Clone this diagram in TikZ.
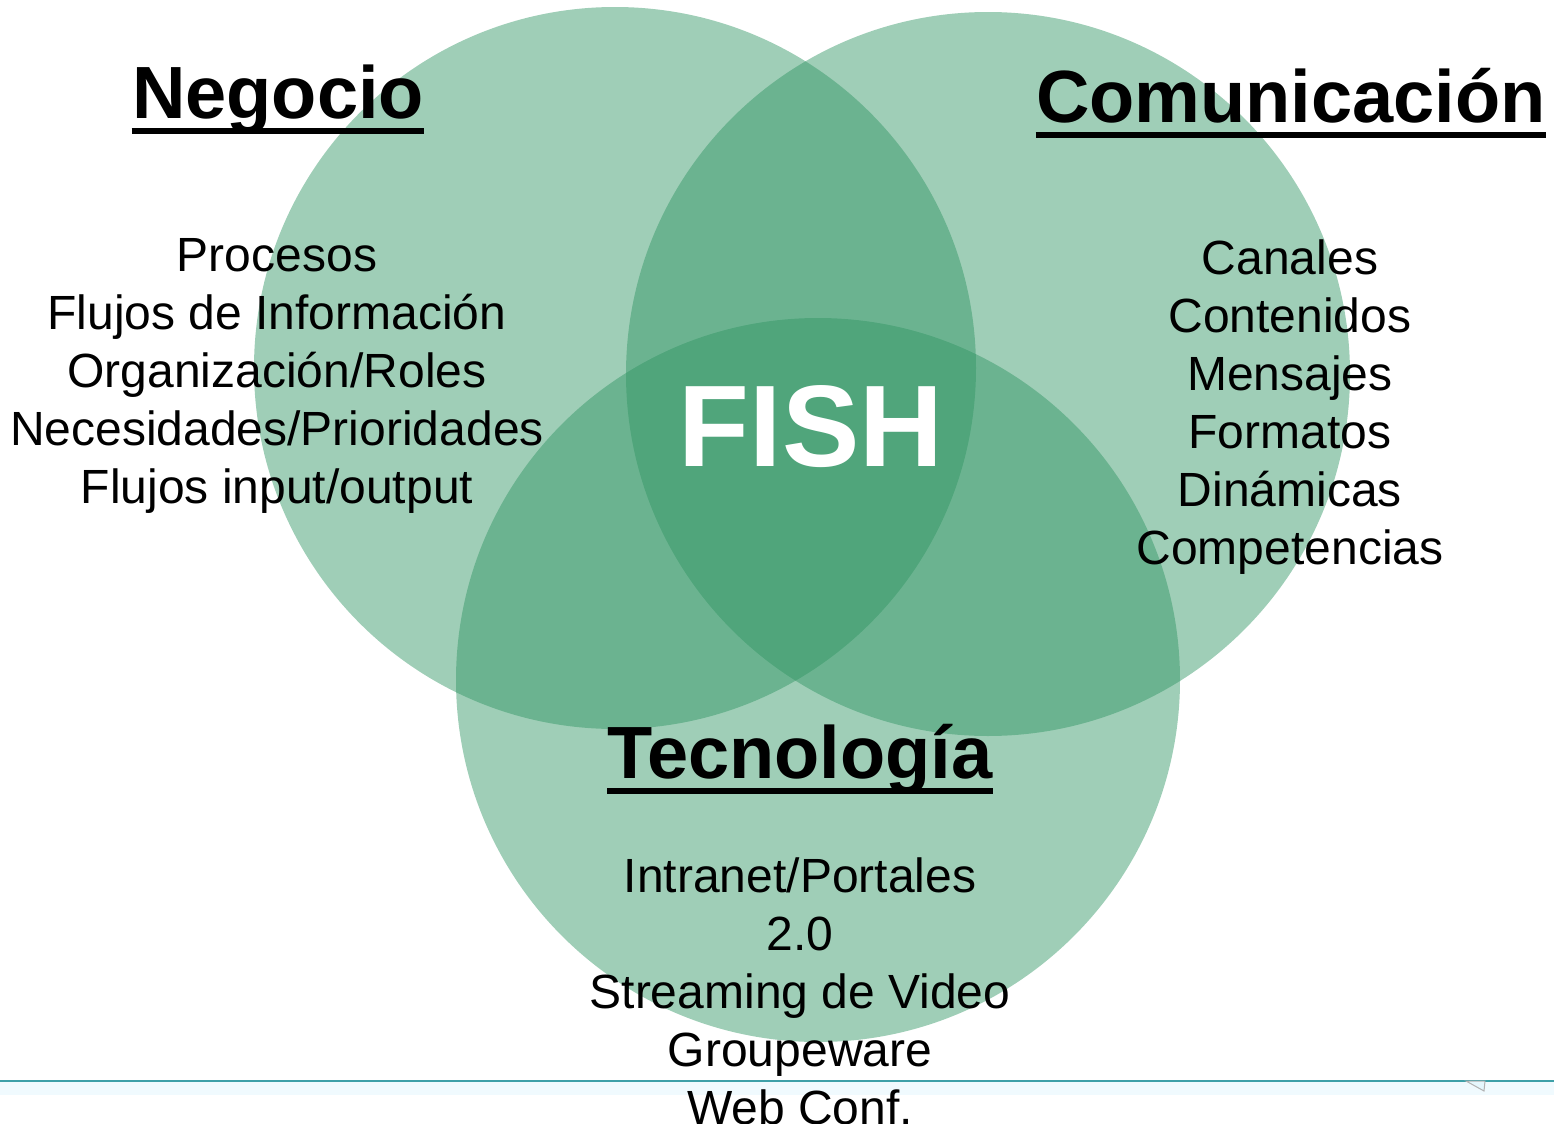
\documentclass[tikz,border=0pt]{standalone}
\usepackage{fontspec}
\setmainfont{Liberation Sans}
\definecolor{venn}{RGB}{46,148,98}
\definecolor{teal}{RGB}{62,160,168}
\begin{document}
\begin{tikzpicture}[x=0.5pt,y=-0.5pt,
  setc/.style={fill=venn,fill opacity=0.46,draw=none},
  head/.style={font=\fontsize{37}{44}\selectfont\bfseries,inner sep=0pt,anchor=base},
  items/.style={font=\fontsize{24}{29}\selectfont,inner sep=0pt,align=center,anchor=base},
  uline/.style={line width=3pt}]
\useasboundingbox (0,0) rectangle (1554,1124);
% circles
\fill[setc] (615,368) circle [radius=361];
\fill[setc] (988,374) circle [radius=362];
\fill[setc] (818,680) circle [radius=362];
% bottom line
\fill[cyan!6] (0,1081) rectangle (1554,1095);
\draw[teal,line width=1pt] (0,1081) -- (1554,1081);
\filldraw[fill=cyan!10,draw=gray!60,line width=0.5pt] (1466,1081) -- (1484,1091) -- (1485,1081) -- cycle;
% headings
\node[head] (neg) at (278,118) {Negocio};
\draw[uline] ([yshift=-6.5pt]neg.base west) -- ([yshift=-6.5pt]neg.base east);
\node[head] (com) at (1291,122) {Comunicación};
\draw[uline] ([yshift=-6.5pt]com.base west) -- ([yshift=-6.5pt]com.base east);
\node[head] (tec) at (800,778) {Tecnología};
\draw[uline] ([yshift=-6.5pt]tec.base west) -- ([yshift=-6.5pt]tec.base east);
% center
\node[font=\fontsize{58}{68}\selectfont\bfseries,text=white,inner sep=0pt,anchor=base] (fish) at (811,466) {FISH};
% items (base anchor = baseline of last line)
\node[items] (negl) at (277,503) {Procesos\\Flujos de Información\\Organización/Roles\\Necesidades/Prioridades\\Flujos input/output};
\node[items] (coml) at (1290,564) {Canales\\Contenidos\\Mensajes\\Formatos\\Dinámicas\\Competencias};
\node[items] (tecl) at (800,1124) {Intranet/Portales\\2.0\\Streaming de Video\\Groupeware\\Web Conf.};
\end{tikzpicture}
\end{document}
